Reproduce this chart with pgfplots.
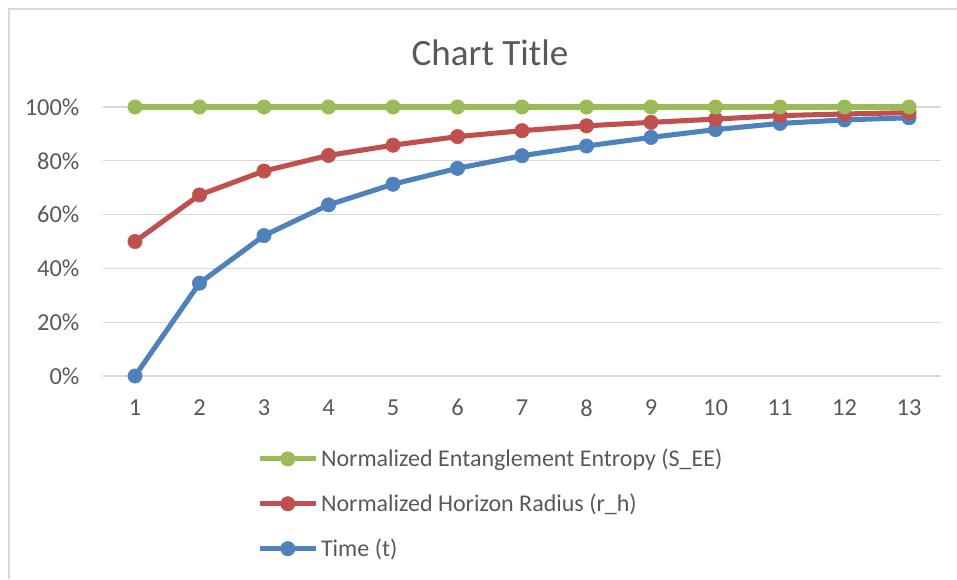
\documentclass[border=0pt]{standalone}
\usepackage{fontspec}
\setmainfont{Carlito}
\usepackage{pgfplots}
\pgfplotsset{compat=1.18}
\definecolor{cgreen}{HTML}{9BBB59}
\definecolor{cred}{HTML}{C0504D}
\definecolor{cblue}{HTML}{4F81BD}
\definecolor{ctext}{HTML}{595959}
\definecolor{cgrid}{HTML}{D9D9D9}
\begin{document}
\begin{tikzpicture}
\path[use as bounding box] (0,0) rectangle (717.75pt,434.25pt);
\draw[cgrid, line width=1pt] (6.75pt,0) -- (6.75pt,427.5pt) -- (717.75pt,427.5pt);
\node[text=ctext, font=\fontsize{27.8}{32}\selectfont] at (367.5pt,394.5pt) {Chart Title};
\begin{axis}[
  at={(77.06pt,152.25pt)}, anchor=south west,
  scale only axis, width=628.9pt, height=201.75pt,
  xmin=0.5, xmax=13.5, ymin=0, ymax=1,
  clip=false,
  axis x line*=bottom, axis y line*=left,
  x axis line style={draw=cgrid, line width=1pt, -},
  y axis line style={draw=none},
  major tick length=0pt,
  ymajorgrids, grid style={cgrid, line width=1pt},
  xtick={1,...,13},
  xticklabels={1,2,3,4,5,6,7,8,9,10,11,12,13},
  ytick={0,0.2,0.4,0.6,0.8,1},
  yticklabels={0\%,20\%,40\%,60\%,80\%,100\%},
  ticklabel style={text=ctext, font=\fontsize{18.3}{21}\selectfont},
  yticklabel style={xshift=-14pt},
  xticklabel style={yshift=-14pt},
  legend style={at={(0.184,-0.261)}, anchor=north west, draw=none, fill=none,
    font=\fontsize{18}{21}\selectfont, text=ctext,
    row sep=15pt, inner sep=0pt, cells={anchor=west}},
  legend cell align=left,
  reverse legend,
  legend image code/.code={
    \draw[#1, mark=none] (0pt,0pt) -- (42pt,0pt);
    \draw[#1, draw=none] plot coordinates {(21pt,0pt)};
  },
  every axis plot/.append style={line width=3.8pt, mark=*, mark size=5.4pt, mark options={solid}},
]
\addplot[cblue, mark options={fill=cblue, draw=cblue, line width=0.4pt}] coordinates {
(1,0) (2,0.345) (3,0.522) (4,0.636) (5,0.713) (6,0.772) (7,0.819) (8,0.855) (9,0.887) (10,0.916) (11,0.939) (12,0.952) (13,0.960)};
\addlegendentry{Time (t)}
\addplot[cred, mark options={fill=cred, draw=cred, line width=0.4pt}] coordinates {
(1,0.5) (2,0.673) (3,0.762) (4,0.820) (5,0.858) (6,0.890) (7,0.912) (8,0.930) (9,0.943) (10,0.955) (11,0.968) (12,0.974) (13,0.979)};
\addlegendentry{Normalized Horizon Radius (r\_h)}
\addplot[cgreen, mark options={fill=cgreen, draw=cgreen, line width=0.4pt}] coordinates {
(1,1) (2,1) (3,1) (4,1) (5,1) (6,1) (7,1) (8,1) (9,1) (10,1) (11,1) (12,1) (13,1)};
\addlegendentry{Normalized Entanglement Entropy (S\_EE)}
\end{axis}
\end{tikzpicture}
\end{document}
